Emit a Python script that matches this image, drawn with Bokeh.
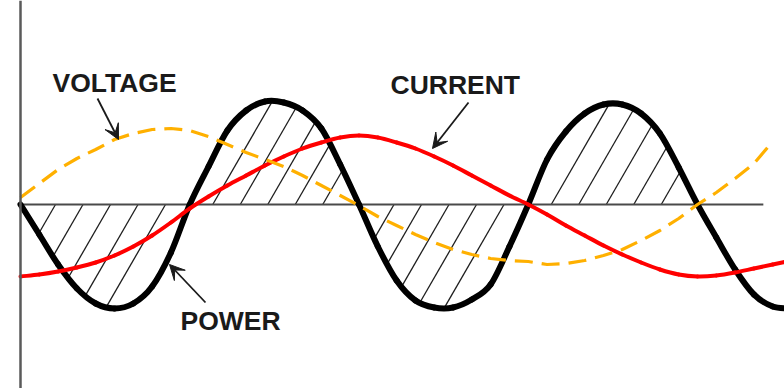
import numpy as np
from bokeh.plotting import figure
from bokeh.models import Range1d, Span, Label, Arrow, VeeHead
from bokeh.embed import file_html
from bokeh.resources import INLINE

# ---------------- data ----------------
# phase angle in degrees, sampled every 10 degrees
phase_deg = list(range(0, 420, 10))          # 0 .. 410

# heights above the zero line (arbitrary units, 1 unit ~ 1 px)
voltage = [7, 21, 35, 46, 55, 65, 71, 75, 76, 74, 68, 60, 52, 45, 38, 29, 19, 9,
           -1, -12, -21, -30, -38, -45, -50, -54, -56, -57, -60, -59, -56, -51,
           -45, -36, -26, -14, 0, 12, 26, 41, 63]                     # 0 .. 400
current = [-72, -70, -67, -63, -58, -51, -42, -31, -18, -4, 8, 19, 29, 39, 48,
           56, 62, 67, 69, 67, 62, 56, 48, 39, 29, 19, 9, 0, -10, -21, -31,
           -41, -50, -58, -65, -70, -72, -71, -68, -64, -60, -56]     # 0 .. 410
power = [0, -30, -60, -84, -99, -104, -99, -82, -48, 0, 38, 74, 94, 103, 102,
         94, 76, 40, 0, -42, -76, -96, -103, -103, -95, -80, -42, 0, 45, 73,
         91, 100, 100, 91, 71, 37, 0, -33, -65, -90, -102, -104]      # 0 .. 410

axis_extent_deg = [0, 395]      # horizontal zero line
hatched_until_deg = 360         # power lobes that are hatched

labels = ["VOLTAGE", "CURRENT", "POWER"]

# ---------------- style / layout ----------------
PX_PER_DEG = 1.8806             # horizontal scale (px per degree)
W, H = 784, 388
ORIGIN_X_PX = 20                # zero line position inside the figure
ZERO_Y_PX = 204                 # zero line from top of the figure

p = figure(width=W, height=H, output_backend="svg", toolbar_location=None,
           x_range=Range1d(-ORIGIN_X_PX / PX_PER_DEG, (W - ORIGIN_X_PX) / PX_PER_DEG),
           y_range=Range1d(ZERO_Y_PX - H, ZERO_Y_PX),
           min_border=0, x_axis_location=None, y_axis_location=None)
p.grid.visible = False
p.outline_line_color = None
p.background_fill_color = "white"
p.border_fill_color = "white"


def smooth_bezier(xs, ys):
    """Catmull-Rom control points so the library draws a smooth curve
    through the data points."""
    x = np.asarray(xs, float)
    y = np.asarray(ys, float)
    xe = np.concatenate([[2 * x[0] - x[1]], x, [2 * x[-1] - x[-2]]])
    ye = np.concatenate([[2 * y[0] - y[1]], y, [2 * y[-1] - y[-2]]])
    n = len(x) - 1
    i = np.arange(1, n + 1)
    return dict(x0=xe[i], y0=ye[i], x1=xe[i + 1], y1=ye[i + 1],
                cx0=xe[i] + (xe[i + 1] - xe[i - 1]) / 6,
                cy0=ye[i] + (ye[i + 1] - ye[i - 1]) / 6,
                cx1=xe[i + 1] - (xe[i + 2] - xe[i]) / 6,
                cy1=ye[i + 1] - (ye[i + 2] - ye[i]) / 6)


# ---------------- hatching of the power lobes ----------------
xp = np.array(phase_deg, float) * PX_PER_DEG
P = np.array(power, float)


def P_at(x):
    return np.interp(x, xp, P)


zeros = []
for i in range(len(P) - 1):
    if P[i] == 0:
        zeros.append(xp[i])
    elif P[i] * P[i + 1] < 0:
        zeros.append(xp[i] + (xp[i + 1] - xp[i]) * P[i] / (P[i] - P[i + 1]))

SLOPE = np.tan(np.radians(60))
SPACING = 27.5
hx0, hy0, hx1, hy1 = [], [], [], []
limit = hatched_until_deg * PX_PER_DEG + 1
for a, b in zip(zeros[:-1], zeros[1:]):
    if b > limit:
        break
    sign = np.sign(P_at((a + b) / 2))
    x0 = a + (35 if sign < 0 else 23)
    while x0 < b - 12:
        t = 0.0
        if sign > 0:
            while SLOPE * t < P_at(x0 + t) - 1:
                t += 0.2
            xe, ye = x0 + t, SLOPE * t
        else:
            while -SLOPE * t > P_at(x0 - t) + 1:
                t += 0.2
            xe, ye = x0 - t, -SLOPE * t
        hx0.append(x0 / PX_PER_DEG)
        hy0.append(0)
        hx1.append(xe / PX_PER_DEG)
        hy1.append(ye)
        x0 += SPACING

p.segment(x0=hx0, y0=hy0, x1=hx1, y1=hy1, line_color="#1e1e1e", line_width=1.3)

# ---------------- axes lines ----------------
p.add_layout(Span(location=0, dimension="height", line_color="#5a5a5a", line_width=2.5))
p.line(axis_extent_deg, [0, 0], line_color="#4a4a4a", line_width=2)

# ---------------- curves ----------------
p.bezier(**smooth_bezier(phase_deg, power), line_color="black", line_width=6,
         line_cap="round")
p.bezier(**smooth_bezier(phase_deg, current), line_color="#ff0000", line_width=4,
         line_cap="round")
p.line(phase_deg[:len(voltage)], voltage, line_color="#ffb000", line_width=3.2,
       line_dash="18 9")

# ---------------- labels and arrows ----------------
def to_deg(page_x):
    return (page_x - ORIGIN_X_PX) / PX_PER_DEG


def to_h(page_y):
    return ZERO_Y_PX - page_y


label_pos = [(52, 82), (390, 84), (180, 320)]
for txt, (lx, ly) in zip(labels, label_pos):
    p.add_layout(Label(x=to_deg(lx), y=to_h(ly), text=txt,
                       text_font="Liberation Sans", text_font_style="bold",
                       text_font_size="26.5px", text_color="#1a1a1a",
                       text_baseline="alphabetic"))

arrows = [((97, 98), (118, 139)), ((468, 102), (432, 148)), ((205, 302), (169, 264))]
for (sx, sy), (ex, ey) in arrows:
    p.add_layout(Arrow(x_start=to_deg(sx), y_start=to_h(sy),
                       x_end=to_deg(ex), y_end=to_h(ey),
                       line_color="#1a1a1a", line_width=1.8,
                       end=VeeHead(size=15, fill_color="#1a1a1a",
                                   line_color="#1a1a1a", line_width=1)))

open("out.html", "w").write(file_html(p, INLINE))
